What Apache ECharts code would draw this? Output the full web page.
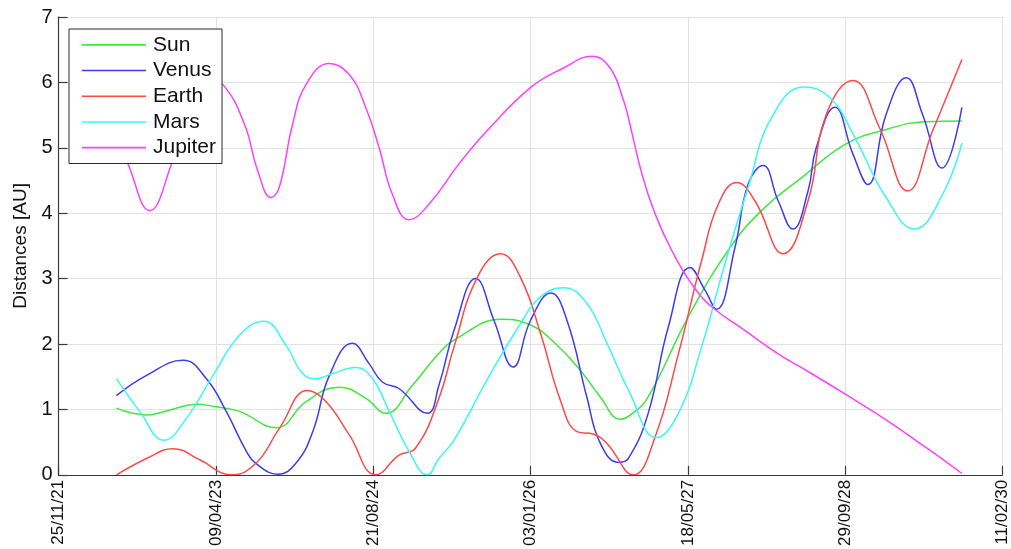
<!DOCTYPE html>
<html>
<head>
<meta charset="utf-8">
<script src="https://cdn.jsdelivr.net/npm/echarts@6/dist/echarts.min.js"></script>
<style>
  html, body { margin: 0; padding: 0; background: #ffffff; }
  #chart { width: 1011px; height: 549px; }
</style>
</head>
<body>
<div id="chart"></div>
<script>
// x values are days counted from the first date on the time axis (25/11/21)
const startDate = Date.UTC(2021, 10, 25);
const tickStepDays = 500;
const axisMaxDays = 3000;
const yTicks = [0, 1, 2, 3, 4, 5, 6, 7];

const seriesNames = ['Sun', 'Venus', 'Earth', 'Mars', 'Jupiter'];

// [day, distance in AU]
const sun = [
  [184, 1.02], [280, 0.915], [360, 1.0], [438, 1.08], [501, 1.04], [575, 0.97],
  [692, 0.72], [787, 1.12], [892, 1.34], [977, 1.17], [1040, 0.94], [1125, 1.37],
  [1209, 1.86], [1257, 2.06], [1410, 2.38], [1500, 2.29], [1574, 2.03], [1658, 1.60],
  [1722, 1.19], [1785, 0.85], [1827, 0.95], [1874, 1.19], [2001, 2.41], [2128, 3.43],
  [2234, 4.04], [2366, 4.56], [2503, 5.06], [2630, 5.28], [2757, 5.40], [2871, 5.41]
];

const venus = [
  [184, 1.21], [280, 1.52], [396, 1.75], [470, 1.47], [533, 0.97], [597, 0.36],
  [628, 0.17], [697, 0.01], [755, 0.18], [808, 0.66], [861, 1.52], [934, 2.01],
  [987, 1.70], [1029, 1.42], [1082, 1.32], [1172, 0.94], [1209, 1.37], [1257, 2.21],
  [1326, 3.00], [1384, 2.36], [1445, 1.65], [1500, 2.36], [1565, 2.78], [1616, 2.36],
  [1679, 1.19], [1722, 0.48], [1780, 0.19], [1811, 0.25], [1874, 0.94], [1938, 2.26],
  [2007, 3.17], [2055, 2.82], [2091, 2.53], [2150, 3.48], [2192, 4.45], [2239, 4.73],
  [2287, 4.19], [2334, 3.76], [2382, 4.34], [2408, 5.00], [2467, 5.62], [2525, 4.90],
  [2572, 4.44], [2630, 5.51], [2694, 6.07], [2746, 5.51], [2808, 4.69], [2871, 5.62]
];

const earth = [
  [184, 0.0], [280, 0.25], [364, 0.40], [449, 0.23], [549, 0.0], [628, 0.18],
  [702, 0.71], [792, 1.29], [850, 1.12], [924, 0.61], [1009, 0.0], [1082, 0.30],
  [1135, 0.41], [1209, 1.17], [1257, 1.96], [1331, 3.02], [1405, 3.38], [1468, 3.02],
  [1532, 2.16], [1595, 1.14], [1648, 0.66], [1701, 0.62], [1743, 0.48], [1827, 0.0],
  [1896, 0.58], [1970, 1.85], [2044, 3.28], [2097, 4.14], [2155, 4.47], [2213, 4.19],
  [2303, 3.38], [2382, 4.19], [2440, 5.51], [2525, 6.03], [2609, 5.31], [2699, 4.34],
  [2778, 5.26], [2871, 6.35]
];

const mars = [
  [184, 1.47], [258, 0.97], [335, 0.53], [406, 0.86], [491, 1.52], [575, 2.13],
  [652, 2.35], [723, 1.98], [776, 1.55], [818, 1.47], [871, 1.55], [945, 1.64],
  [998, 1.47], [1051, 0.97], [1114, 0.36], [1172, 0.0], [1209, 0.25], [1257, 0.53],
  [1362, 1.45], [1468, 2.31], [1532, 2.72], [1605, 2.86], [1679, 2.62], [1743, 2.01],
  [1811, 1.30], [1901, 0.57], [1970, 0.94], [2044, 1.96], [2118, 3.23], [2192, 4.40],
  [2266, 5.46], [2369, 5.93], [2451, 5.77], [2525, 5.21], [2630, 4.24], [2720, 3.76],
  [2810, 4.29], [2871, 5.07]
];

const jupiter = [
  [189, 5.15], [221, 4.75], [290, 4.04], [359, 4.75], [420, 5.65], [474, 6.05],
  [522, 5.97], [591, 5.36], [633, 4.65], [676, 4.24], [702, 4.40], [744, 5.36],
  [787, 5.97], [861, 6.29], [924, 6.12], [977, 5.61], [1019, 5.00], [1061, 4.29],
  [1114, 3.90], [1178, 4.14], [1272, 4.75], [1362, 5.26], [1500, 5.92], [1605, 6.22],
  [1695, 6.40], [1753, 6.22], [1796, 5.72], [1811, 5.46], [1854, 4.60], [1896, 3.99],
  [1949, 3.43], [2012, 2.92], [2076, 2.57], [2181, 2.21], [2287, 1.85], [2382, 1.58],
  [2498, 1.24], [2630, 0.84], [2768, 0.38], [2871, 0.02]
];

const seriesData = [sun, venus, earth, mars, jupiter];
const seriesColors = ['#3ee83e', '#3c3cf5', '#ff4848', '#3cf6f6', '#ff40ff'];

const fontFamily = '"Liberation Sans", Arial, Helvetica, sans-serif';

function formatDay(d) {
  const t = new Date(startDate + d * 86400000);
  const dd = String(t.getUTCDate()).padStart(2, '0');
  const mm = String(t.getUTCMonth() + 1).padStart(2, '0');
  const yy = String(t.getUTCFullYear() % 100).padStart(2, '0');
  return dd + '/' + mm + '/' + yy;
}

const chart = echarts.init(document.getElementById('chart'), null, { renderer: 'canvas' });

chart.setOption({
  animation: false,
  backgroundColor: '#ffffff',
  textStyle: { fontFamily: fontFamily },
  grid: { left: 58.5, right: 6, top: 17, bottom: 72.3, containLabel: false },
  legend: {
    data: seriesNames,
    orient: 'vertical',
    left: 69,
    top: 29,
    icon: 'rect',
    itemWidth: 64,
    itemHeight: 1.6,
    itemGap: 0,
    padding: [3, 6, 3, 13],
    backgroundColor: '#ffffff',
    borderColor: '#2a2a2a',
    borderWidth: 1,
    textStyle: { fontSize: 21, lineHeight: 25.7, color: '#111111', fontFamily: fontFamily, padding: [0, 0, 0, 2] }
  },
  xAxis: {
    type: 'value',
    min: 0,
    max: axisMaxDays,
    interval: tickStepDays,
    axisLine: { show: true, lineStyle: { color: '#3a3a3a', width: 1.2 } },
    axisTick: { show: true, inside: true, length: 9, lineStyle: { color: '#3a3a3a', width: 1.2 } },
    axisLabel: {
      rotate: 90,
      margin: 5,
      fontSize: 17,
      color: '#111111',
      fontFamily: fontFamily,
      showMinLabel: true,
      showMaxLabel: true,
      formatter: formatDay
    },
    splitLine: { show: true, lineStyle: { color: '#e2e2e2', width: 1 } }
  },
  yAxis: {
    type: 'value',
    min: yTicks[0],
    max: yTicks[yTicks.length - 1],
    interval: 1,
    name: 'Distances [AU]',
    nameLocation: 'middle',
    nameGap: 28,
    nameTextStyle: { fontSize: 19, color: '#111111', fontFamily: fontFamily },
    axisLine: { show: true, lineStyle: { color: '#3a3a3a', width: 1.2 } },
    axisTick: { show: true, inside: true, length: 9, lineStyle: { color: '#3a3a3a', width: 1.2 } },
    axisLabel: { margin: 6, fontSize: 20, color: '#111111', fontFamily: fontFamily },
    splitLine: { show: true, lineStyle: { color: '#e2e2e2', width: 1 } }
  },
  series: seriesNames.map((name, i) => ({
    name: name,
    type: 'line',
    data: seriesData[i],
    smooth: 0.45,
    showSymbol: false,
    symbol: 'none',
    clip: true,
    color: seriesColors[i],
    lineStyle: { color: seriesColors[i], width: 1.5 }
  }))
});
</script>
</body>
</html>
